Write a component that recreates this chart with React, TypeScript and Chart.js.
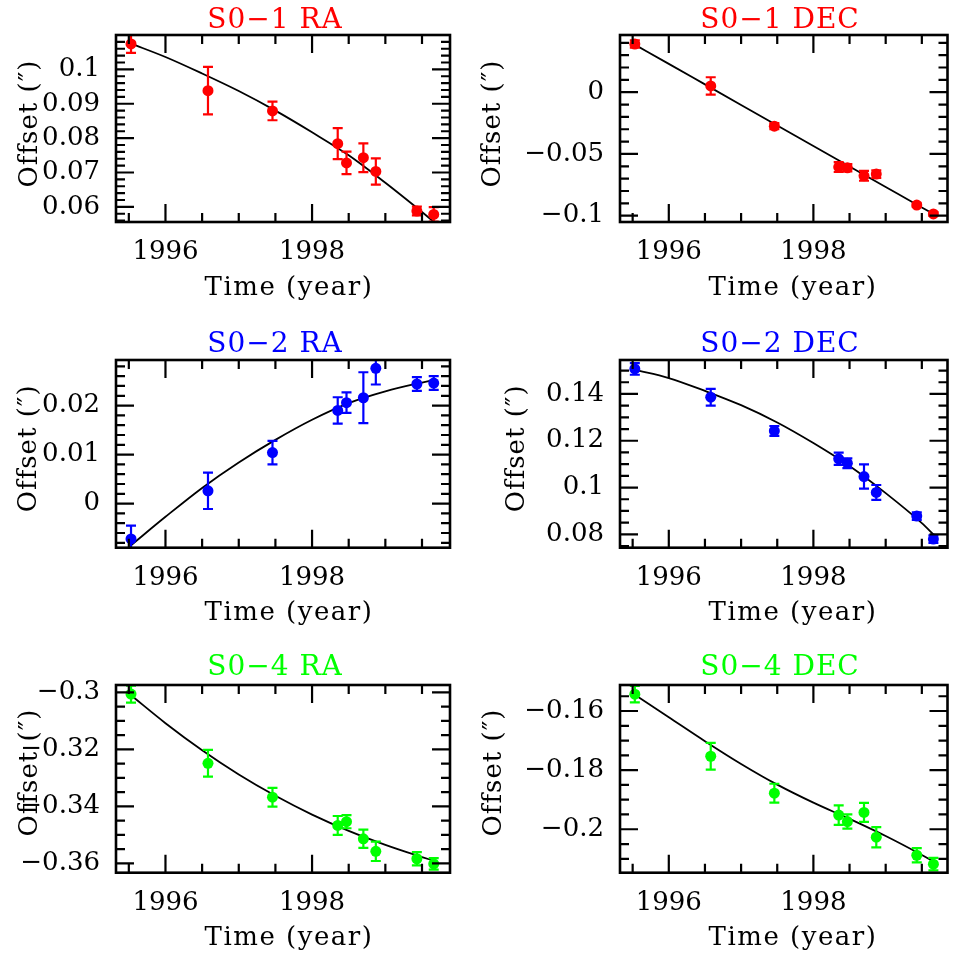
import React, { useEffect, useRef } from 'react';
import { Chart, registerables } from 'chart.js';

Chart.register(...registerables);

const FONT = "'DejaVu Serif'";

// Observation epochs (years) shared by all panels
const epochs = [1995.53, 1996.58, 1997.46, 1998.35, 1998.47, 1998.70, 1998.87, 1999.43, 1999.66];
// Epochs at which the fitted orbit curve was read
const modelEpochs = [1995.53, 1996.0, 1996.5, 1997.0, 1997.5, 1998.0, 1998.5, 1999.0, 1999.5, 1999.66];

const xTicks = [1996, 1998];
const xTickLabels = ['1996', '1998'];

// S0-1 RA
const s01RA = [0.1074, 0.0938, 0.0879, 0.0784, 0.0728, 0.0743, 0.0703, 0.0588, 0.0578];
const s01RAErr = [0.0026, 0.0069, 0.0027, 0.0045, 0.0033, 0.0042, 0.0038, 0.0013, 0.0021];
const s01RAModel = [0.1075, 0.1036, 0.0988, 0.0937, 0.0880, 0.0817, 0.0750, 0.0670, 0.0585, 0.0557];
const s01RATicks = [0.06, 0.07, 0.08, 0.09, 0.1];
const s01RALabels = ['0.06', '0.07', '0.08', '0.09', '0.1'];

// S0-1 DEC
const s01DEC = [0.0390, 0.0051, -0.0275, -0.0606, -0.0612, -0.0677, -0.0663, -0.0914, -0.0986];
const s01DECErr = [0.003, 0.007, 0.0025, 0.004, 0.003, 0.004, 0.003, 0.0015, 0.0015];
const s01DECModel = [0.0385, 0.0229, 0.0063, -0.0103, -0.0269, -0.0435, -0.0601, -0.0767, -0.0933, -0.0986];
const s01DECTicks = [-0.1, -0.05, 0];
const s01DECLabels = ['\u22120.1', '\u22120.05', '0'];

// S0-2 RA
const s02RA = [-0.0072, 0.0026, 0.0104, 0.0190, 0.0206, 0.0216, 0.0276, 0.0244, 0.0246];
const s02RAErr = [0.0027, 0.0037, 0.0024, 0.0027, 0.0021, 0.0052, 0.0033, 0.0014, 0.0014];
const s02RAModel = [-0.0085, -0.0027, 0.0032, 0.0084, 0.0130, 0.0171, 0.0205, 0.0229, 0.0247, 0.0252];
const s02RATicks = [0, 0.01, 0.02];
const s02RALabels = ['0', '0.01', '0.02'];

// S0-2 DEC
const s02DEC = [0.1507, 0.1386, 0.1242, 0.1123, 0.1104, 0.1047, 0.0979, 0.0878, 0.0780];
const s02DECErr = [0.0025, 0.0036, 0.0021, 0.0026, 0.0021, 0.0052, 0.0032, 0.0016, 0.0016];
const s02DECModel = [0.1503, 0.1468, 0.1413, 0.1352, 0.1278, 0.1190, 0.1092, 0.0976, 0.0848, 0.0800];
const s02DECTicks = [0.08, 0.1, 0.12, 0.14];
const s02DECLabels = ['0.08', '0.1', '0.12', '0.14'];

// S0-4 RA
const s04RA = [-0.3006, -0.3249, -0.3368, -0.3467, -0.3454, -0.3514, -0.3558, -0.3584, -0.3602];
const s04RAErr = [0.0030, 0.0047, 0.0033, 0.0033, 0.0023, 0.0032, 0.0034, 0.0023, 0.0020];
const s04RAModel = [-0.3010, -0.3108, -0.3203, -0.3288, -0.3363, -0.3429, -0.3486, -0.3535, -0.3578, -0.3591];
const s04RATicks = [-0.36, -0.34, -0.32, -0.3];
const s04RALabels = ['\u22120.36', '\u22120.34', '\u22120.32', '\u22120.3'];

// S0-4 DEC
const s04DEC = [-0.1543, -0.1753, -0.1878, -0.1952, -0.1974, -0.1943, -0.2027, -0.2088, -0.2118];
const s04DECErr = [0.0028, 0.0045, 0.0032, 0.0033, 0.0024, 0.0032, 0.0034, 0.0024, 0.0021];
const s04DECModel = [-0.1545, -0.1621, -0.1702, -0.1779, -0.1849, -0.1910, -0.1965, -0.2023, -0.2087, -0.2109];
const s04DECTicks = [-0.2, -0.18, -0.16];
const s04DECLabels = ['\u22120.2', '\u22120.18', '\u22120.16'];

const COLS = [
  { left: 0, width: 477, boxL: 116, boxR: 450, xMin: 1995.325, xMax: 1999.882, titleX: 275, xTitleX: 289 },
  { left: 477, width: 476, boxL: 143, boxR: 475, xMin: 1995.325, xMax: 1999.855, titleX: 303, xTitleX: 316 },
];
const ROWS = [
  { top: 0, height: 320, boxT: 35, boxB: 222, titleBase: 27.7, xTitleBase: 295, yTitleY: 123.5 },
  { top: 320, height: 320, boxT: 40, boxB: 227.7, titleBase: 32.3, xTitleBase: 300, yTitleY: 128.3 },
  { top: 640, height: 321, boxT: 45, boxB: 232.7, titleBase: 35, xTitleBase: 305, yTitleY: 132.5 },
];

const PANELS = [
  { title: 'S0\u22121 RA', color: '#ff0000', vals: s01RA, errs: s01RAErr, model: s01RAModel, yMin: 0.0556, yMax: 0.110, yTicks: s01RATicks, yLabels: s01RALabels, yMinor: 0.002, col: 0, row: 0, yTitleX: 36.7 },
  { title: 'S0\u22121 DEC', color: '#ff0000', vals: s01DEC, errs: s01DECErr, model: s01DECModel, yMin: -0.1051, yMax: 0.0463, yTicks: s01DECTicks, yLabels: s01DECLabels, yMinor: 0.01, col: 1, row: 0, yTitleX: 23.3 },
  { title: 'S0\u22122 RA', color: '#0000ff', vals: s02RA, errs: s02RAErr, model: s02RAModel, yMin: -0.0090, yMax: 0.0293, yTicks: s02RATicks, yLabels: s02RALabels, yMinor: 0.002, col: 0, row: 1, yTitleX: 35.7 },
  { title: 'S0\u22122 DEC', color: '#0000ff', vals: s02DEC, errs: s02DECErr, model: s02DECModel, yMin: 0.0743, yMax: 0.1545, yTicks: s02DECTicks, yLabels: s02DECLabels, yMinor: 0.005, col: 1, row: 1, yTitleX: 46.7 },
  { title: 'S0\u22124 RA', color: '#00ff00', vals: s04RA, errs: s04RAErr, model: s04RAModel, yMin: -0.3633, yMax: -0.2974, yTicks: s04RATicks, yLabels: s04RALabels, yMinor: 0.005, col: 0, row: 2, yTitleX: 36.7 },
  { title: 'S0\u22124 DEC', color: '#00ff00', vals: s04DEC, errs: s04DECErr, model: s04DECModel, yMin: -0.2147, yMax: -0.1512, yTicks: s04DECTicks, yLabels: s04DECLabels, yMinor: 0.005, col: 1, row: 2, yTitleX: 24 },
];

const MAJOR = 18;
const MINOR = 9;

function Panel({ p }: { p: any }) {
  const ref = useRef<HTMLCanvasElement>(null);
  const c = COLS[p.col];
  const r = ROWS[p.row];

  useEffect(() => {
    const decor = {
      id: 'decor',
      afterDatasetsDraw(chart: any) {
        const { ctx, chartArea: a, scales } = chart;
        const x = scales.x, y = scales.y;
        ctx.save();
        ctx.beginPath();
        ctx.rect(a.left, a.top, a.right - a.left, a.bottom - a.top);
        ctx.clip();
        ctx.strokeStyle = p.color;
        ctx.lineWidth = 2.2;
        epochs.forEach((e, i) => {
          const px = x.getPixelForValue(e);
          const y1 = y.getPixelForValue(p.vals[i] + p.errs[i]);
          const y2 = y.getPixelForValue(p.vals[i] - p.errs[i]);
          ctx.beginPath();
          ctx.moveTo(px, y1); ctx.lineTo(px, y2);
          ctx.moveTo(px - 5, y1); ctx.lineTo(px + 5, y1);
          ctx.moveTo(px - 5, y2); ctx.lineTo(px + 5, y2);
          ctx.stroke();
        });
        ctx.restore();
      },
      afterDraw(chart: any) {
        const { ctx, chartArea: a, scales } = chart;
        const x = scales.x, y = scales.y;
        ctx.save();
        ctx.strokeStyle = '#000';
        ctx.lineWidth = 2.2;
        ctx.beginPath();
        // x ticks (bottom and top)
        const xs = 0.5;
        for (let k = Math.ceil(c.xMin / xs); k <= Math.floor(c.xMax / xs); k++) {
          const v = k * xs;
          const major = xTicks.some((t) => Math.abs(t - v) < 1e-6);
          const len = major ? MAJOR : MINOR;
          const px = x.getPixelForValue(v);
          ctx.moveTo(px, a.bottom); ctx.lineTo(px, a.bottom - len);
          ctx.moveTo(px, a.top); ctx.lineTo(px, a.top + len);
        }
        // y ticks (left and right)
        const ys = p.yMinor;
        for (let k = Math.ceil(p.yMin / ys - 1e-6); k <= Math.floor(p.yMax / ys + 1e-6); k++) {
          const v = k * ys;
          if (v < p.yMin || v > p.yMax) continue;
          const major = p.yTicks.some((t: number) => Math.abs(t - v) < ys * 1e-3);
          const len = major ? MAJOR : MINOR;
          const py = y.getPixelForValue(v);
          ctx.moveTo(a.left, py); ctx.lineTo(a.left + len, py);
          ctx.moveTo(a.right, py); ctx.lineTo(a.right - len, py);
        }
        ctx.stroke();
        ctx.lineWidth = 2.6;
        ctx.strokeRect(a.left, a.top, a.right - a.left, a.bottom - a.top);

        // titles
        ctx.fillStyle = p.color;
        ctx.font = `28px ${FONT}`;
        ctx.textAlign = 'center';
        ctx.textBaseline = 'alphabetic';
        (ctx as any).letterSpacing = '1px';
        ctx.fillText(p.title, c.titleX, r.titleBase);

        ctx.fillStyle = '#000';
        ctx.font = `26px ${FONT}`;
        (ctx as any).letterSpacing = '1.5px';
        ctx.fillText('Time (year)', c.xTitleX, r.xTitleBase);

        (ctx as any).letterSpacing = '1px';
        ctx.translate(p.yTitleX, r.yTitleY);
        ctx.rotate(-Math.PI / 2);
        ctx.fillText('Offset (\u2033)', 0, 0);
        (ctx as any).letterSpacing = '0px';
        ctx.restore();
      },
    };

    const chart = new Chart(ref.current as HTMLCanvasElement, {
      type: 'scatter',
      data: {
        datasets: [
          {
            data: epochs.map((e, i) => ({ x: e, y: p.vals[i] })),
            showLine: false,
            pointRadius: 5.5,
            pointBackgroundColor: p.color,
            pointBorderWidth: 0,
            pointBorderColor: p.color,
          },
          {
            data: modelEpochs.map((e, i) => ({ x: e, y: p.model[i] })),
            showLine: true,
            pointRadius: 0,
            borderColor: '#000',
            borderWidth: 1.8,
            cubicInterpolationMode: 'monotone',
            fill: false,
          },
        ],
      } as any,
      options: {
        animation: false,
        responsive: false,
        devicePixelRatio: 1,
        events: [],
        layout: { padding: { left: 0, top: r.boxT, right: c.width - c.boxR, bottom: 0 } },
        plugins: { legend: { display: false }, tooltip: { enabled: false }, title: { display: false } },
        scales: {
          x: {
            type: 'linear',
            min: c.xMin,
            max: c.xMax,
            grid: { display: false, drawTicks: false },
            border: { display: false },
            afterBuildTicks: (s: any) => { s.ticks = xTicks.map((v) => ({ value: v })); },
            afterFit: (s: any) => { s.height = r.height - r.boxB; s.paddingLeft = 0; s.paddingRight = 0; },
            ticks: {
              padding: 15,
              color: '#000',
              autoSkip: false,
              maxRotation: 0,
              font: { size: 26, family: FONT },
              callback: (_v: any, i: number) => xTickLabels[i],
            },
          },
          y: {
            type: 'linear',
            min: p.yMin,
            max: p.yMax,
            grid: { display: false, drawTicks: false },
            border: { display: false },
            afterBuildTicks: (s: any) => { s.ticks = p.yTicks.map((v: number) => ({ value: v })); },
            afterFit: (s: any) => { s.width = c.boxL; s.paddingTop = 0; s.paddingBottom = 0; },
            ticks: {
              padding: 16,
              color: '#000',
              autoSkip: false,
              font: { size: 26, family: FONT },
              callback: (_v: any, i: number) => p.yLabels[i],
            },
          },
        },
      } as any,
      plugins: [decor],
    });
    return () => chart.destroy();
  }, []);

  return (
    <canvas
      ref={ref}
      width={c.width}
      height={r.height}
      style={{ position: 'absolute', left: c.left, top: r.top, width: c.width, height: r.height, display: 'block' }}
    />
  );
}

export default function App() {
  return (
    <div style={{ position: 'absolute', left: 0, top: 0, width: 953, height: 961, background: '#fff', overflow: 'hidden' }}>
      {PANELS.map((p, i) => (
        <Panel key={i} p={p} />
      ))}
    </div>
  );
}
